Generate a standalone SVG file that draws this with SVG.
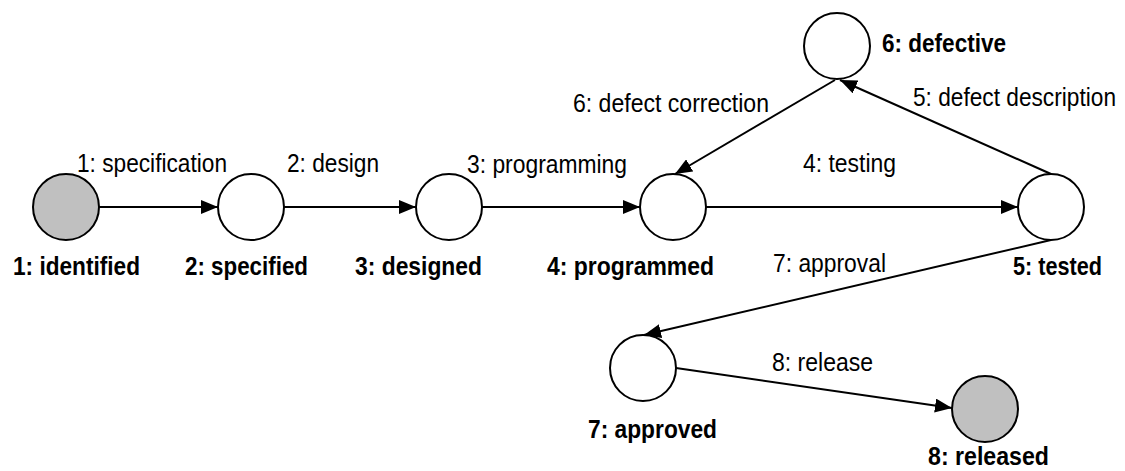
<svg xmlns="http://www.w3.org/2000/svg" width="1125" height="471" viewBox="0 0 1125 471">
  <style>
    .node { fill: #ffffff; stroke: #000000; stroke-width: 2; }
    .final { fill: #c0c0c0; }
    .edge { fill: none; stroke: #000000; stroke-width: 2; marker-end: url(#arrow); }
    .lbl { font-family: "Liberation Sans", Arial, sans-serif; font-size: 26px; fill: #000000; }
    .name { font-family: "Liberation Sans", Arial, sans-serif; font-size: 26px; font-weight: bold; fill: #000000; }
  </style>
  <defs>
    <marker id="arrow" markerUnits="userSpaceOnUse" markerWidth="17" markerHeight="14" refX="17" refY="7" orient="auto">
      <path d="M0,0 L17,7 L0,14 z" fill="#000000"/>
    </marker>
  </defs>
  <rect width="1125" height="471" fill="#ffffff"/>
  <g id="connectors">
    <line class="edge" x1="99" y1="207" x2="218" y2="207"/>
    <line class="edge" x1="284" y1="207" x2="416" y2="207"/>
    <line class="edge" x1="482" y1="207" x2="640" y2="207"/>
    <line class="edge" x1="706" y1="207" x2="1018" y2="207"/>
    <line class="edge" x1="1051" y1="174" x2="840" y2="80"/>
    <line class="edge" x1="835" y1="80" x2="675" y2="174"/>
    <line class="edge" x1="1051" y1="240" x2="644" y2="335"/>
    <line class="edge" x1="676" y1="368" x2="952" y2="408"/>
    <text class="lbl" x="77" y="172" textLength="150" lengthAdjust="spacingAndGlyphs">1: specification</text>
    <text class="lbl" x="287" y="172" textLength="92" lengthAdjust="spacingAndGlyphs">2: design</text>
    <text class="lbl" x="467" y="173" textLength="160" lengthAdjust="spacingAndGlyphs">3: programming</text>
    <text class="lbl" x="803" y="172" textLength="93" lengthAdjust="spacingAndGlyphs">4: testing</text>
    <text class="lbl" x="573" y="112" textLength="196" lengthAdjust="spacingAndGlyphs">6: defect correction</text>
    <text class="lbl" x="913" y="106" textLength="203" lengthAdjust="spacingAndGlyphs">5: defect description</text>
    <text class="lbl" x="773" y="272" textLength="113" lengthAdjust="spacingAndGlyphs">7: approval</text>
    <text class="lbl" x="772" y="371" textLength="101" lengthAdjust="spacingAndGlyphs">8: release</text>
  </g>
  <g id="n1">
    <circle class="node final" cx="66" cy="207" r="33"/>
    <text class="name" x="13" y="275" textLength="127" lengthAdjust="spacingAndGlyphs">1: identified</text>
  </g>
  <g id="n2">
    <circle class="node" cx="251" cy="207" r="33"/>
    <text class="name" x="185" y="275" textLength="123" lengthAdjust="spacingAndGlyphs">2: specified</text>
  </g>
  <g id="n3">
    <circle class="node" cx="449" cy="207" r="33"/>
    <text class="name" x="355" y="275" textLength="127" lengthAdjust="spacingAndGlyphs">3: designed</text>
  </g>
  <g id="n4">
    <circle class="node" cx="673" cy="207" r="33"/>
    <text class="name" x="547" y="275" textLength="167" lengthAdjust="spacingAndGlyphs">4: programmed</text>
  </g>
  <g id="n5">
    <circle class="node" cx="1051" cy="207" r="33"/>
    <text class="name" x="1013" y="275" textLength="89" lengthAdjust="spacingAndGlyphs">5: tested</text>
  </g>
  <g id="n6">
    <circle class="node" cx="837" cy="46" r="33"/>
    <text class="name" x="882" y="52" textLength="124" lengthAdjust="spacingAndGlyphs">6: defective</text>
  </g>
  <g id="n7">
    <circle class="node" cx="643" cy="368" r="33"/>
    <text class="name" x="588" y="438" textLength="129" lengthAdjust="spacingAndGlyphs">7: approved</text>
  </g>
  <g id="n8">
    <circle class="node final" cx="985" cy="409" r="33"/>
    <text class="name" x="928" y="465" textLength="121" lengthAdjust="spacingAndGlyphs">8: released</text>
  </g>
</svg>
